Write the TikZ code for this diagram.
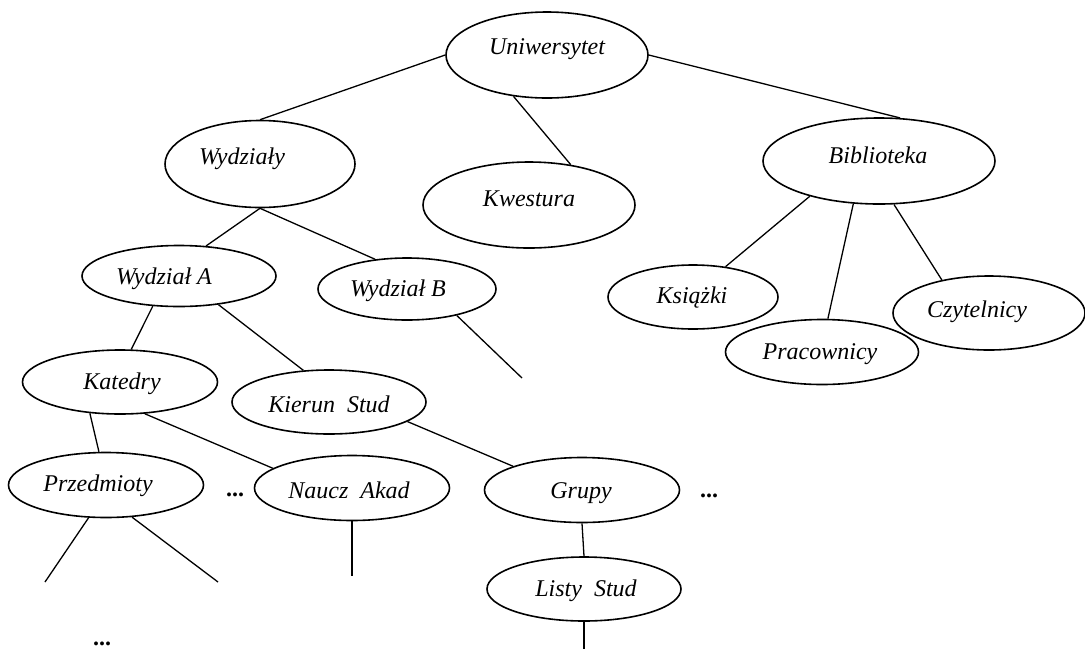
\documentclass[tikz,border=0pt]{standalone}
\usepackage{fontspec}
\setmainfont{Liberation Serif}
\usepackage{tikz}
\usetikzlibrary{shapes.geometric}

\begin{document}
\begin{tikzpicture}[x=1pt,y=-1pt]
\tikzset{oval/.style 2 args={draw, ellipse, line width=1.6pt, inner sep=0pt, minimum width=#1pt, minimum height=#2pt}}
\tikzset{every label/.append style={font=\fontsize{24}{28}\selectfont\itshape, inner sep=0pt}}
\tikzset{dots/.style={font=\fontsize{24}{28}\selectfont\bfseries, inner sep=0pt}}
\useasboundingbox (0,0) rectangle (1085,649);
% top level
\node[oval={202}{86}, label={[shift={(0,-6)}]center:Uniwersytet}] (uni) at (547,55) {};
\node[oval={190}{87}, label={[shift={(-18,-5)}]center:Wydziały}] (wyd) at (260,164) {};
\node[oval={212}{86}, label={[shift={(0,-6)}]center:Kwestura}] (kwe) at (529,205) {};
\node[oval={232}{86}, label={[shift={(-1,-6)}]center:Biblioteka}] (bib) at (879,161) {};
% faculties
\node[oval={194}{61}, label={[shift={(-15,3)}]center:Wydział A}] (wa) at (179,276) {};
\node[oval={178}{62}, label={[shift={(-9,2)}]center:Wydział B}] (wb) at (407,289) {};
% library
\node[oval={170}{64}, label={[shift={(-1,1)}]center:Książki}] (ksi) at (693,297) {};
\node[oval={193}{65}, label={[shift={(-2,2)}]center:Pracownicy}] (prac) at (822,352) {};
\node[oval={192}{74}, label={[shift={(-12,-1)}]center:Czytelnicy}] (czy) at (989,313) {};
% lower levels
\node[oval={195}{64}, label={[shift={(2,2)}]center:Katedry}] (kat) at (120,382) {};
\node[oval={194}{64}, label={[shift={(0,2)}]center:Kierun\ \ Stud}] (kier) at (329,402) {};
\node[oval={195}{65}, label={[shift={(-8,1)}]center:Przedmioty}] (przed) at (106,485) {};
\node[oval={195}{65}, label={[shift={(-3,2)}]center:Naucz\ \ Akad}] (nau) at (352,488) {};
\node[oval={195}{65}, label={[shift={(-1,3)}]center:Grupy}] (gru) at (582,490) {};
\node[oval={194}{64}, label={[shift={(2,2)}]center:Listy\ \ Stud}] (lis) at (584,589) {};
\node[dots] (dotsa) at (235,495) {...};
\node[dots] (dotsb) at (709,496) {...};
\node[dots] (dotsc) at (102,644) {...};
\coordinate (wbend) at (522,378);
\coordinate (prleft) at (45,582);
\coordinate (prright) at (218,582);
\coordinate (nauend) at (352,576);
\coordinate (lisend) at (584,649);
% connectors
\begin{scope}[line width=1.3pt]
\draw (uni.west) -- (wyd.north);
\draw (uni.231) -- (kwe.44);
\draw (uni.east) -- (bib.64);
\draw (wyd.south) -- (wa.48);
\draw (wyd.south) -- (wb.137);
\draw (wb.-28) -- (wbend);
\draw (bib.207) -- (ksi.43);
\draw (bib.239) -- (prac.80);
\draw (bib.289) -- (czy.145);
\draw (wa.229) -- (kat.71);
\draw (wa.324) -- (kier.129);
\draw (kat.226) -- (przed.102);
\draw (kat.308) -- (nau.166);
\draw (kier.346) -- (gru.161);
\draw (przed.242) -- (prleft);
\draw (przed.309) -- (prright);
\draw (nau.south) -- (nauend);
\draw (gru.south) -- (lis.north);
\draw (lis.south) -- (lisend);
\end{scope}
\end{tikzpicture}
\end{document}
